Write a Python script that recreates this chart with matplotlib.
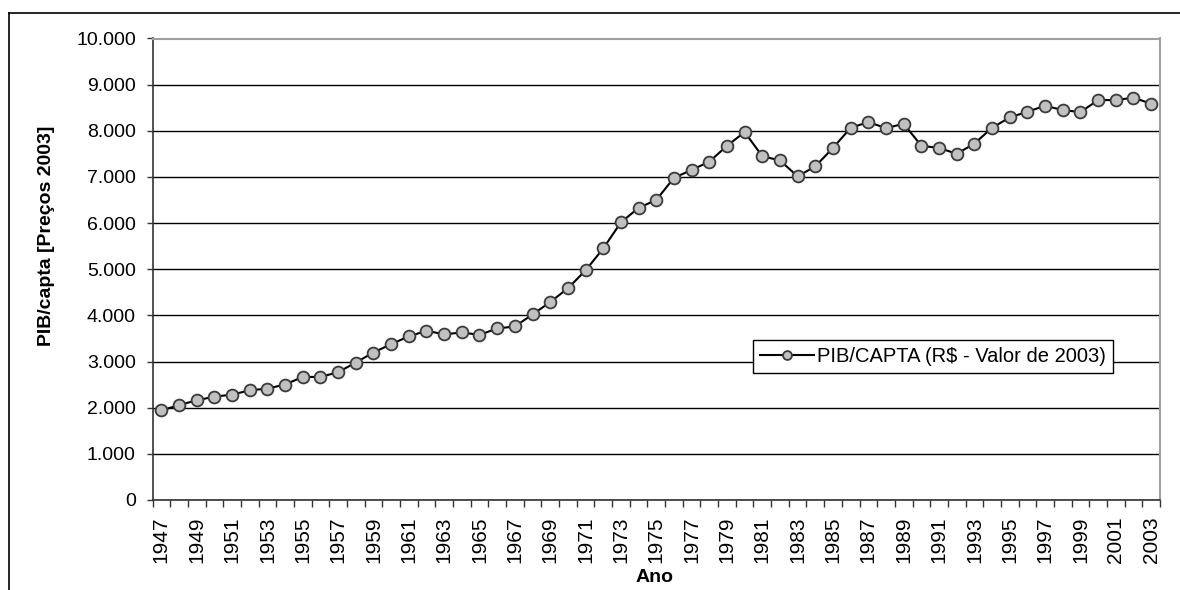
import numpy as np
import matplotlib
matplotlib.use("Agg")
import matplotlib.pyplot as plt
from matplotlib.ticker import FuncFormatter, FixedLocator
from matplotlib.lines import Line2D

years = list(range(1947, 2004))
pib_capita = [
    1940, 2057, 2159, 2240, 2283, 2377, 2414, 2502, 2667, 2667,
    2769, 2978, 3196, 3377, 3545, 3667, 3590, 3630, 3578, 3717,
    3760, 4020, 4289, 4587, 4975, 5450, 6015, 6330, 6500, 6980,
    7152, 7330, 7674, 7972, 7450, 7357, 7013, 7230, 7630, 8065,
    8188, 8058, 8152, 7674, 7630, 7500, 7724, 8065, 8290, 8413,
    8543, 8449, 8405, 8666, 8666, 8717, 8587,
]
series_label = r"PIB/CAPTA (R\$ - Valor de 2003)"
y_label = "PIB/capta [Preços 2003]"
x_label = "Ano"
y_ticks = [0, 1000, 2000, 3000, 4000, 5000, 6000, 7000, 8000, 9000, 10000]

plt.rcParams['font.family'] = ['Liberation Sans', 'DejaVu Sans']

W, H = 1180, 590
fig = plt.figure(figsize=(W / 100, H / 100), dpi=100)
L, R, T, B = 152.5, 1160, 38.5, 500
ax = fig.add_axes([L / W, 1 - B / H, (R - L) / W, (B - T) / H])

x = np.arange(len(years))
ax.plot(x, pib_capita, color='black', lw=1.5, marker='o', markersize=8.5,
        markerfacecolor='#C0C0C0', markeredgecolor='#3a3a3a', markeredgewidth=1.3,
        label=series_label, zorder=3)

ax.set_xlim(-0.5, len(years) - 0.5)
ax.set_ylim(0, 10000)

# y axis
ax.set_yticks(y_ticks)
ax.yaxis.set_major_formatter(FuncFormatter(lambda v, p: f"{v:,.0f}".replace(",", ".")))
ax.tick_params(axis='y', length=4, width=1, color='#333333', pad=8, labelsize=14)
ax.yaxis.grid(True, color='black', lw=1)
ax.set_axisbelow(True)

# x axis: ticks between categories, labels every other year
ax.xaxis.set_major_locator(FixedLocator(np.arange(-0.5, len(years), 1)))
ax.xaxis.set_major_formatter(FuncFormatter(lambda v, p: ""))
ax.xaxis.set_minor_locator(FixedLocator(x[::2]))
ax.set_xticklabels([str(y) for y in years[::2]], minor=True, rotation=90)
ax.tick_params(axis='x', which='major', length=5, width=1, color='#333333')
ax.tick_params(axis='x', which='minor', length=0, pad=12, labelsize=15)

for s in ['top', 'right']:
    ax.spines[s].set_color('#a0a0a0')
    ax.spines[s].set_linewidth(1.5)
for s in ['left', 'bottom']:
    ax.spines[s].set_color('#333333')
    ax.spines[s].set_linewidth(1.2)

fig.text(47 / W, 1 - 236 / H, y_label, rotation=90, ha='center', va='center',
         fontsize=14, fontweight='bold')
fig.text(655 / W, 1 - 578 / H, x_label, ha='center', va='center',
         fontsize=14, fontweight='bold')

leg = ax.legend(loc='upper left', bbox_to_anchor=(753 / W, 1 - 340 / H),
                bbox_transform=fig.transFigure, fancybox=False, framealpha=1,
                edgecolor='black', fontsize=14.5, handlelength=2.7,
                handletextpad=0.12, borderpad=0.35, borderaxespad=0, markerscale=0.75)
leg.get_frame().set_linewidth(1.0)

# outer chart frame (cropped on right and bottom)
fig.add_artist(Line2D([9 / W, 1], [1 - 13 / H, 1 - 13 / H], transform=fig.transFigure,
                      color='black', lw=1.2))
fig.add_artist(Line2D([9 / W, 9 / W], [0, 1 - 13 / H], transform=fig.transFigure,
                      color='black', lw=1.2))

fig.savefig("out.png", dpi=100)
